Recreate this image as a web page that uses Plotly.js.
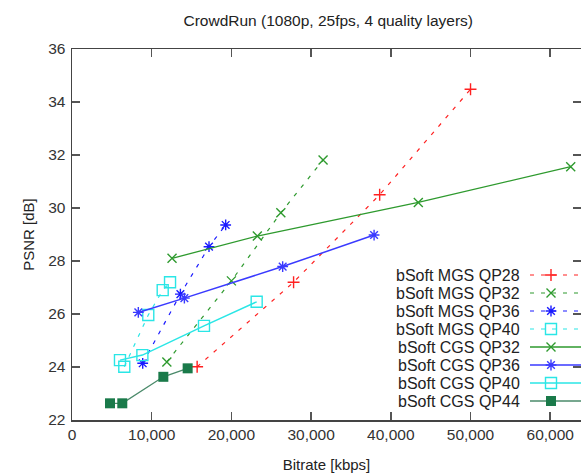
<!DOCTYPE html>
<html>
<head>
<meta charset="utf-8">
<script src="https://cdn.plot.ly/plotly-3.0.1.min.js"></script>
<style>html,body{margin:0;padding:0;background:#fff;}#chart{width:581px;height:473px;}</style>
</head>
<body>
<div id="chart"></div>
<script>
// ---- data (bitrate kbps, PSNR dB) ----
const mgsQP28_x = [15700, 27800, 38600, 50000];
const mgsQP28_y = [24.01, 27.2, 30.5, 34.48];
const mgsQP32_x = [11900, 20000, 26200, 31500];
const mgsQP32_y = [24.19, 27.25, 29.82, 31.81];
const mgsQP36_x = [8870, 13600, 17190, 19280];
const mgsQP36_y = [24.14, 26.75, 28.54, 29.36];
const mgsQP40_x = [6560, 9570, 11380, 12300];
const mgsQP40_y = [24.01, 25.96, 26.9, 27.2];
const cgsQP32_x = [12550, 23250, 43450, 62570];
const cgsQP32_y = [28.1, 28.94, 30.21, 31.56];
const cgsQP36_x = [8320, 14100, 26430, 37900];
const cgsQP36_y = [26.06, 26.6, 27.79, 28.98];
const cgsQP40_x = [6020, 8830, 16560, 23170];
const cgsQP40_y = [24.26, 24.45, 25.55, 26.46];
const cgsQP44_x = [4770, 6310, 11460, 14510];
const cgsQP44_y = [22.63, 22.63, 23.63, 23.95];

const seriesNames = ["bSoft MGS QP28","bSoft MGS QP32","bSoft MGS QP36","bSoft MGS QP40",
                     "bSoft CGS QP32","bSoft CGS QP36","bSoft CGS QP40","bSoft CGS QP44"];
const xTickVals = [0, 10000, 20000, 30000, 40000, 50000, 60000];
const yTickVals = [22, 24, 26, 28, 30, 32, 34, 36];

// ---- styles ----
const RED = "#ff2020", GREEN = "#2e9a2e", BLUE = "#1a1aff", CYAN = "#2ae6e6", DKG = "#1a7a4a";
const styles = [
  {color: RED,   dash: "4px,7px", symbol: "cross-thin-open", size: 8.5, fill: false, lw: 1.2},
  {color: GREEN, dash: "4px,7px", symbol: "x-thin-open",     size: 9,  fill: false, lw: 1.2},
  {color: BLUE,  dash: "4px,7px", symbol: "asterisk-open",   size: 9,  fill: false, lw: 1.2},
  {color: CYAN,  dash: "4px,7px", symbol: "square-open",     size: 11, fill: false, lw: 1.2},
  {color: GREEN, dash: "solid",   symbol: "x-thin-open",     size: 9,  fill: false, lw: 1.3},
  {color: "#3a3aff", dash: "solid", symbol: "asterisk-open", size: 9,  fill: false, lw: 1.5},
  {color: CYAN,  dash: "solid",   symbol: "square-open",     size: 11, fill: false, lw: 1.5},
  {color: "#4a8a6a", dash: "solid", symbol: "square",        size: 10, fill: true,  lw: 1.3, mcolor: DKG}
];
const xs = [mgsQP28_x, mgsQP32_x, mgsQP36_x, mgsQP40_x, cgsQP32_x, cgsQP36_x, cgsQP40_x, cgsQP44_x];
const ys = [mgsQP28_y, mgsQP32_y, mgsQP36_y, mgsQP40_y, cgsQP32_y, cgsQP36_y, cgsQP40_y, cgsQP44_y];

function markerOf(s) {
  const mc = s.mcolor || s.color;
  return s.fill
    ? {symbol: s.symbol, size: s.size, color: mc, line: {width: 0}}
    : {symbol: s.symbol, size: s.size, color: mc, line: {width: 1.4, color: mc}};
}

const traces = [];
for (let i = 0; i < 8; i++) {
  const s = styles[i];
  traces.push({
    type: "scatter", mode: "lines+markers", name: seriesNames[i],
    x: xs[i], y: ys[i],
    line: {color: s.color, width: s.lw, dash: s.dash},
    marker: markerOf(s), showlegend: false, cliponaxis: true
  });
}

// ---- custom legend (symbols to the right of right-aligned text) on a pixel overlay axis ----
const PW = 509, PH = 371;
const legRowTop = 226, legRowStep = 18;
const annotations = [];
for (let i = 0; i < 8; i++) {
  const s = styles[i];
  const yy = legRowTop + i * legRowStep;
  traces.push({
    type: "scatter", mode: "lines", xaxis: "x2", yaxis: "y2", showlegend: false,
    x: [458, 509], y: [yy, yy], line: {color: s.color, width: s.lw, dash: s.dash}, hoverinfo: "skip"
  });
  traces.push({
    type: "scatter", mode: "markers", xaxis: "x2", yaxis: "y2", showlegend: false,
    x: [479], y: [yy], marker: markerOf(s), hoverinfo: "skip"
  });
  annotations.push({
    xref: "x2", yref: "y2", x: 450, y: yy, text: seriesNames[i], showarrow: false,
    xanchor: "right", yanchor: "middle", font: {family: "Liberation Sans, Arial", size: 16, color: "#222"}
  });
}

const FONT = {family: "Liberation Sans, Arial, sans-serif", size: 15, color: "#333"};
const layout = {
  width: 581, height: 473,
  margin: {l: 72, r: 0, t: 49, b: 53},
  paper_bgcolor: "#fff", plot_bgcolor: "#fff",
  font: FONT,
  title: {text: "CrowdRun (1080p, 25fps, 4 quality layers)", font: {family: FONT.family, size: 15.5, color: "#222"},
          x: 0.565, xref: "container", y: 0.957, yanchor: "middle"},
  xaxis: {
    range: [0, 63860], tickvals: xTickVals, tickformat: ",d", ticks: "inside", ticklen: 8, tickwidth: 1.5,
    tickcolor: "#555", showline: true, linecolor: "#444", linewidth: 1.5, mirror: "ticks",
    showgrid: false, zeroline: false, tickfont: {family: FONT.family, size: 15.5, color: "#333"},
    title: {text: "Bitrate [kbps]", font: {family: FONT.family, size: 15, color: "#222"}, standoff: 17}
  },
  yaxis: {
    range: [22, 36], tickvals: yTickVals, ticks: "inside", ticklen: 8, tickwidth: 1.5,
    tickcolor: "#555", showline: true, linecolor: "#444", linewidth: 1.5, mirror: "ticks",
    showgrid: false, zeroline: false, tickfont: {family: FONT.family, size: 15.5, color: "#333"},
    ticklabelstandoff: 2,
    title: {text: "PSNR [dB]", font: {family: FONT.family, size: 15, color: "#222"}, standoff: 10}
  },
  xaxis2: {overlaying: "x", range: [0, PW], visible: false, fixedrange: true, anchor: "y2"},
  yaxis2: {overlaying: "y", range: [PH, 0], visible: false, fixedrange: true, anchor: "x2"},
  annotations: annotations,
  showlegend: false
};

Plotly.newPlot("chart", traces, layout, {displayModeBar: false, staticPlot: true});
</script>
</body>
</html>
